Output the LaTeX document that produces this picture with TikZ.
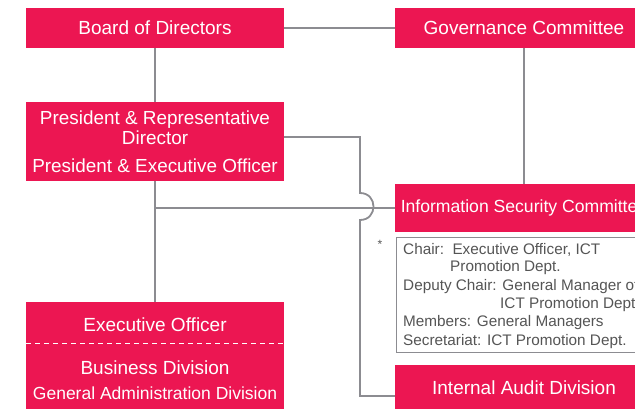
\documentclass[tikz,border=0pt]{standalone}
\usepackage{fontspec}
\setmainfont{Liberation Sans}
\definecolor{boxred}{RGB}{236,22,82}
\definecolor{linegray}{RGB}{140,140,145}
\definecolor{notegray}{RGB}{85,85,85}
\begin{document}
\begin{tikzpicture}[x=1pt,y=-1pt,
  redbox/.style={fill=boxred,draw=none,text=white,minimum width=258pt,inner sep=0pt,align=center},
  conn/.style={draw=linegray,line width=1.8pt},
  notetext/.style={anchor=west,inner sep=0pt,text=notegray,font=\fontsize{15.3}{17}\selectfont},
  big/.style={font=\fontsize{19}{22}\selectfont}]
\useasboundingbox (0,0) rectangle (635,408);
\clip (0,0) rectangle (635,408);
\fill[white] (0,0) rectangle (635,408);

% boxes
\node[redbox,big,minimum height=40pt] (board) at (155,28) {Board of Directors};
\node[redbox,big,minimum height=40pt] (gov) at (524,28) {Governance Committee};
\node[redbox,minimum height=79pt,font=\fontsize{18.9}{20}\selectfont] (pres) at (155,141.5)
  {President \& Representative\\Director\\[8pt]President \& Executive Officer};
\node[redbox,minimum height=48pt,font=\fontsize{17.6}{20}\selectfont] (infosec) at (524,208) {Information Security Committee};
\node[redbox,big,minimum height=46pt] (audit) at (524,388) {Internal Audit Division};
\node[redbox,minimum height=120pt] (exec) at (155,362) {};
\node[big,text=white,inner sep=0pt] (exec1) at (155,325) {Executive Officer};
\node[big,text=white,inner sep=0pt] (exec2) at (155,368) {Business Division};
\node[text=white,inner sep=0pt,font=\fontsize{17.5}{20}\selectfont] (exec3) at (155,393) {General Administration Division};
\coordinate (dl) at (26,343);
\coordinate (dr) at (284,343);
\draw[white,line width=1pt,dash pattern=on 5pt off 4pt] (dl) -- (dr);

% note box
\node[draw=linegray,line width=0.9pt,minimum width=270pt,minimum height=115pt,inner sep=0pt,anchor=north west] (note) at (396,237) {};
\node[notetext] (n1) at (403,250) {Chair:\ \ Executive Officer, ICT};
\node[notetext] (n2) at (450,268) {Promotion Dept.};
\node[notetext] (n3) at (403,287) {Deputy Chair: General Manager of};
\node[notetext] (n4) at (500,305) {ICT Promotion Dept.};
\node[notetext] (n5) at (403,323) {Members: General Managers};
\node[notetext] (n6) at (403,342) {Secretariat: ICT Promotion Dept.};
\node[inner sep=0pt,text=notegray,font=\fontsize{12}{14}\selectfont] (star) at (380,244) {*};

% connectors
\draw[conn] (board) -- (pres);
\draw[conn] (board) -- (gov);
\draw[conn] (gov) -- (infosec);
\draw[conn] (pres) -- (exec);
\draw[conn] (infosec.west) -- (infosec.west -| pres.south);
\coordinate (j1) at (360,193);
\coordinate (j2) at (360,220);
\draw[conn] ([yshift=4.5pt]pres.east) -| (j1) .. controls (378,193) and (378,220) .. (j2) |- ([yshift=-8pt]audit.west);
\end{tikzpicture}
\end{document}
